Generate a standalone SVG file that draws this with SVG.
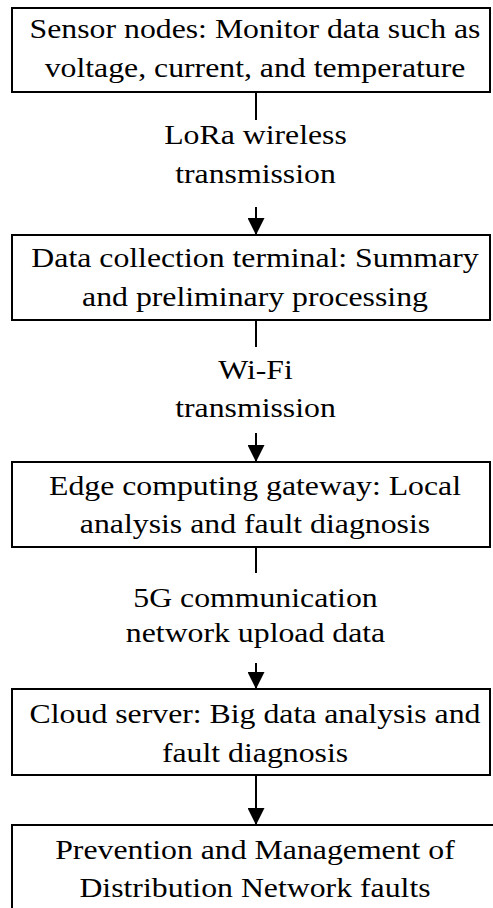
<svg xmlns="http://www.w3.org/2000/svg" width="493" height="908" viewBox="0 0 493 908">
  <style>
    .box { fill: #ffffff; stroke: #000000; stroke-width: 2; }
    .lbl { font-family: "Liberation Serif", "Times New Roman", serif; font-size: 28px; fill: #000000; text-anchor: middle; }
    .edge { stroke: #000000; stroke-width: 2; fill: none; }
  </style>
  <defs>
    <marker id="arrow" markerUnits="userSpaceOnUse" markerWidth="18" markerHeight="17" refX="17" refY="8.5" orient="auto">
      <path d="M0,0 L17,8.5 L0,17 Z" fill="#000000"/>
    </marker>
  </defs>
  <rect width="493" height="908" fill="#ffffff"/>

  <!-- flow connectors with their transport labels (text widened 1.135x) -->
  <g id="connectors">
    <line class="edge" x1="256" y1="92" x2="256" y2="120"/>
    <line class="edge" x1="256" y1="207" x2="256" y2="235" marker-end="url(#arrow)"/>
    <line class="edge" x1="256" y1="320" x2="256" y2="347"/>
    <line class="edge" x1="256" y1="433" x2="256" y2="462" marker-end="url(#arrow)"/>
    <line class="edge" x1="256" y1="547" x2="256" y2="573"/>
    <line class="edge" x1="256" y1="663" x2="256" y2="689" marker-end="url(#arrow)"/>
    <line class="edge" x1="256" y1="775" x2="256" y2="825" marker-end="url(#arrow)"/>
    <g transform="matrix(1.135 0 0 1 255.5 0)">
      <text class="lbl" x="0" y="144">LoRa wireless</text>
      <text class="lbl" x="0" y="183">transmission</text>
      <text class="lbl" x="0" y="379">Wi-Fi</text>
      <text class="lbl" x="0" y="417">transmission</text>
      <text class="lbl" x="0" y="607">5G communication</text>
      <text class="lbl" x="0" y="642">network upload data</text>
    </g>
  </g>

  <g id="sensor-nodes">
    <rect class="box" x="12" y="8" width="478" height="84"/>
    <g transform="matrix(1.135 0 0 1 255 0)">
      <text class="lbl" x="0" y="38">Sensor nodes: Monitor data such as</text>
      <text class="lbl" x="0" y="77">voltage, current, and temperature</text>
    </g>
  </g>

  <g id="collection-terminal">
    <rect class="box" x="12" y="235" width="478" height="85"/>
    <g transform="matrix(1.135 0 0 1 255 0)">
      <text class="lbl" x="0" y="267">Data collection terminal: Summary</text>
      <text class="lbl" x="0" y="306">and preliminary processing</text>
    </g>
  </g>

  <g id="edge-gateway">
    <rect class="box" x="12" y="462" width="478" height="85"/>
    <g transform="matrix(1.135 0 0 1 255 0)">
      <text class="lbl" x="0" y="495">Edge computing gateway: Local</text>
      <text class="lbl" x="0" y="533">analysis and fault diagnosis</text>
    </g>
  </g>

  <g id="cloud-server">
    <rect class="box" x="12" y="689" width="478" height="86"/>
    <g transform="matrix(1.135 0 0 1 255 0)">
      <text class="lbl" x="0" y="723">Cloud server: Big data analysis and</text>
      <text class="lbl" x="0" y="762">fault diagnosis</text>
    </g>
  </g>

  <g id="fault-management">
    <rect class="box" x="12" y="825" width="490" height="92"/>
    <g transform="matrix(1.135 0 0 1 255 0)">
      <text class="lbl" x="0" y="859">Prevention and Management of</text>
      <text class="lbl" x="0" y="897">Distribution Network faults</text>
    </g>
  </g>
</svg>
